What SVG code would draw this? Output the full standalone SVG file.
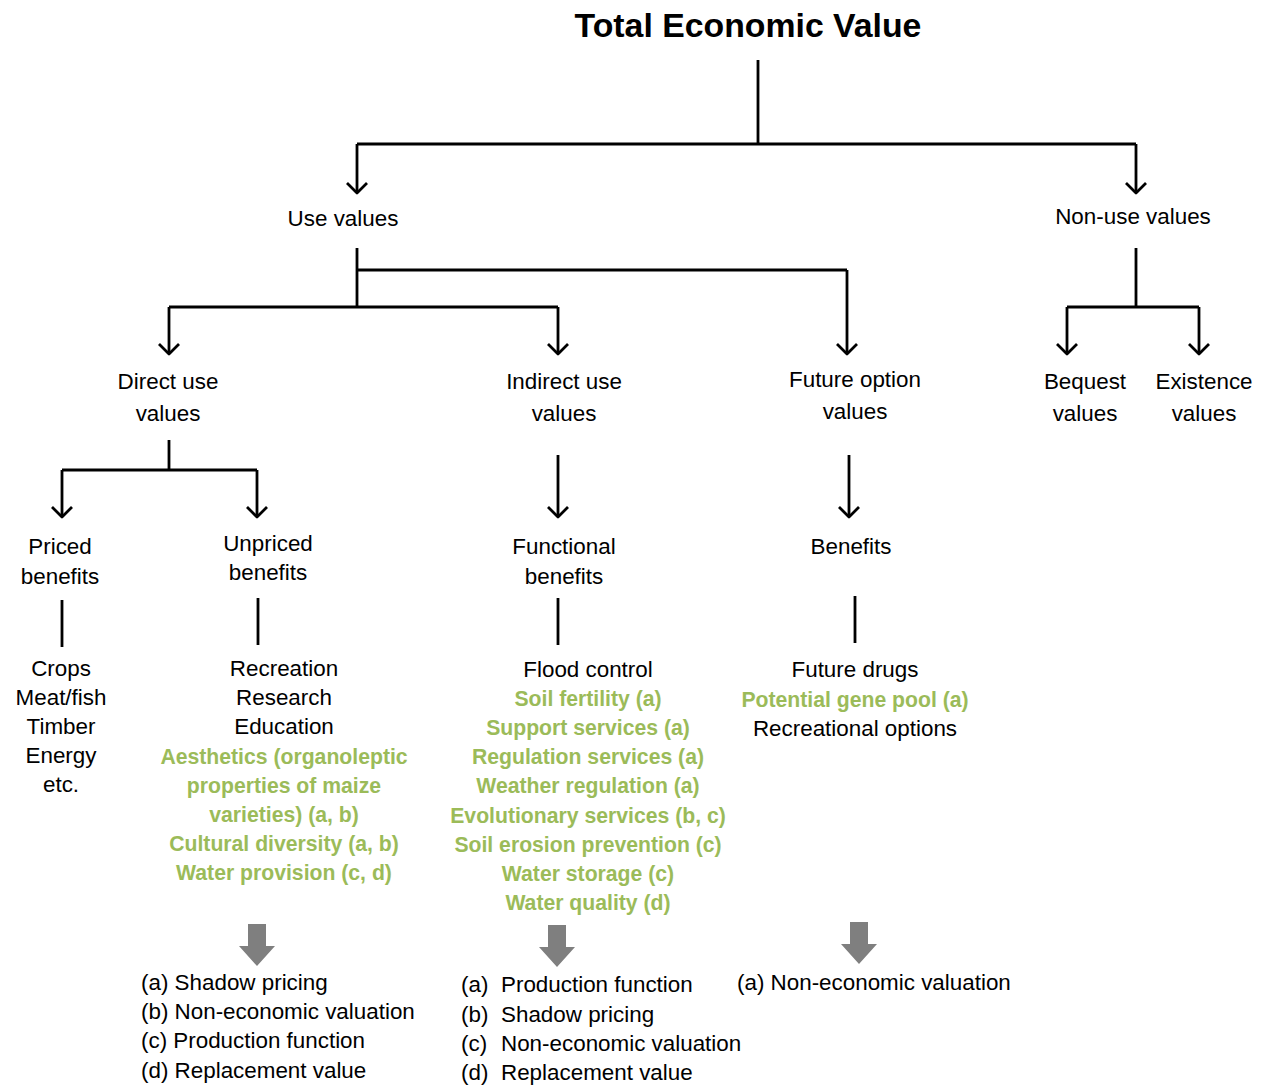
<svg xmlns="http://www.w3.org/2000/svg" width="1265" height="1085" viewBox="0 0 1265 1085">
<style>
text{font-family:"Liberation Sans",Arial,sans-serif;fill:#000;font-size:22.4px}
.c{text-anchor:middle}
.g{fill:#9bbb59;font-weight:bold;font-size:21.2px}
.t{font-weight:bold;font-size:33.8px}
.ln{stroke:#000;stroke-width:2.8;fill:none}
.ar{marker-end:url(#ah)}
.blk{fill:#7f7f7f}
</style>
<defs>
<marker id="ah" viewBox="-12 -12 14 24" refX="0" refY="0" markerWidth="14" markerHeight="24" markerUnits="userSpaceOnUse" orient="auto">
<path d="M-10,-10 L0,0 L-10,10" stroke="#000" stroke-width="2.8" fill="none" stroke-linejoin="round"/>
</marker>
<polygon id="garrow" points="-9,0 9,0 9,22 18,22 0,42 -18,22 -9,22"/>
</defs>
<rect width="1265" height="1085" fill="#fff"/>

<g id="connectors">
<path class="ln" d="M758,60 V144 M357,144 H1136"/>
<path class="ln ar" d="M357,144 V193"/>
<path class="ln ar" d="M1136,144 V193"/>
<path class="ln" d="M357,248 V307 M357,270 H847 M169,307 H558"/>
<path class="ln ar" d="M847,270 V354"/>
<path class="ln ar" d="M169,307 V354"/>
<path class="ln ar" d="M558,307 V354"/>
<path class="ln" d="M1136,248 V307 M1067,307 H1199"/>
<path class="ln ar" d="M1067,307 V354"/>
<path class="ln ar" d="M1199,307 V354"/>
<path class="ln" d="M169,440 V470 M62,470 H257"/>
<path class="ln ar" d="M62,470 V517"/>
<path class="ln ar" d="M257,470 V517"/>
<path class="ln ar" d="M558,455 V517"/>
<path class="ln ar" d="M849,455 V517"/>
<path class="ln" d="M62,600 V647 M258,598 V645 M558,598 V645 M855,596 V643"/>
<use href="#garrow" class="blk" x="257" y="924"/>
<use href="#garrow" class="blk" x="557" y="925"/>
<use href="#garrow" class="blk" x="859" y="922"/>
</g>

<g id="total"><text class="t c" x="748" y="37">Total Economic Value</text></g>
<g id="use"><text class="c" x="343" y="226">Use values</text></g>
<g id="nonuse"><text class="c" x="1133" y="224">Non-use values</text></g>
<g id="direct"><text class="c" x="168" y="389">Direct use</text><text class="c" x="168" y="421">values</text></g>
<g id="indirect"><text class="c" x="564" y="389">Indirect use</text><text class="c" x="564" y="421">values</text></g>
<g id="future"><text class="c" x="855" y="387">Future option</text><text class="c" x="855" y="419">values</text></g>
<g id="bequest"><text class="c" x="1085" y="389">Bequest</text><text class="c" x="1085" y="421">values</text></g>
<g id="existence"><text class="c" x="1204" y="389">Existence</text><text class="c" x="1204" y="421">values</text></g>
<g id="priced"><text class="c" x="60" y="554">Priced</text><text class="c" x="60" y="584">benefits</text></g>
<g id="unpriced"><text class="c" x="268" y="551">Unpriced</text><text class="c" x="268" y="580">benefits</text></g>
<g id="functional"><text class="c" x="564" y="554">Functional</text><text class="c" x="564" y="584">benefits</text></g>
<g id="benefits"><text class="c" x="851" y="554">Benefits</text></g>

<g id="priced-list">
<text class="c" x="61" y="676">Crops</text>
<text class="c" x="61" y="705">Meat/fish</text>
<text class="c" x="61" y="734">Timber</text>
<text class="c" x="61" y="763">Energy</text>
<text class="c" x="61" y="792">etc.</text>
</g>
<g id="unpriced-list">
<text class="c" x="284" y="676">Recreation</text>
<text class="c" x="284" y="705">Research</text>
<text class="c" x="284" y="734">Education</text>
<text class="c g" x="284" y="764">Aesthetics (organoleptic</text>
<text class="c g" x="284" y="793">properties of maize</text>
<text class="c g" x="284" y="822">varieties) (a, b)</text>
<text class="c g" x="284" y="851">Cultural diversity (a, b)</text>
<text class="c g" x="284" y="880">Water provision (c, d)</text>
</g>
<g id="functional-list">
<text class="c" x="588" y="677">Flood control</text>
<text class="c g" x="588" y="706">Soil fertility (a)</text>
<text class="c g" x="588" y="735">Support services (a)</text>
<text class="c g" x="588" y="764">Regulation services (a)</text>
<text class="c g" x="588" y="793">Weather regulation (a)</text>
<text class="c g" x="588" y="823">Evolutionary services (b, c)</text>
<text class="c g" x="588" y="852">Soil erosion prevention (c)</text>
<text class="c g" x="588" y="881">Water storage (c)</text>
<text class="c g" x="588" y="910">Water quality (d)</text>
</g>
<g id="benefits-list">
<text class="c" x="855" y="677">Future drugs</text>
<text class="c g" x="855" y="707">Potential gene pool (a)</text>
<text class="c" x="855" y="736">Recreational options</text>
</g>
<g id="methods-direct">
<text x="141" y="990">(a) Shadow pricing</text>
<text x="141" y="1019">(b) Non-economic valuation</text>
<text x="141" y="1048">(c) Production function</text>
<text x="141" y="1078">(d) Replacement value</text>
</g>
<g id="methods-indirect">
<text x="461" y="992">(a)</text><text x="501" y="992">Production function</text>
<text x="461" y="1022">(b)</text><text x="501" y="1022">Shadow pricing</text>
<text x="461" y="1051">(c)</text><text x="501" y="1051">Non-economic valuation</text>
<text x="461" y="1080">(d)</text><text x="501" y="1080">Replacement value</text>
</g>
<g id="methods-future">
<text x="737" y="990">(a) Non-economic valuation</text>
</g>
</svg>
